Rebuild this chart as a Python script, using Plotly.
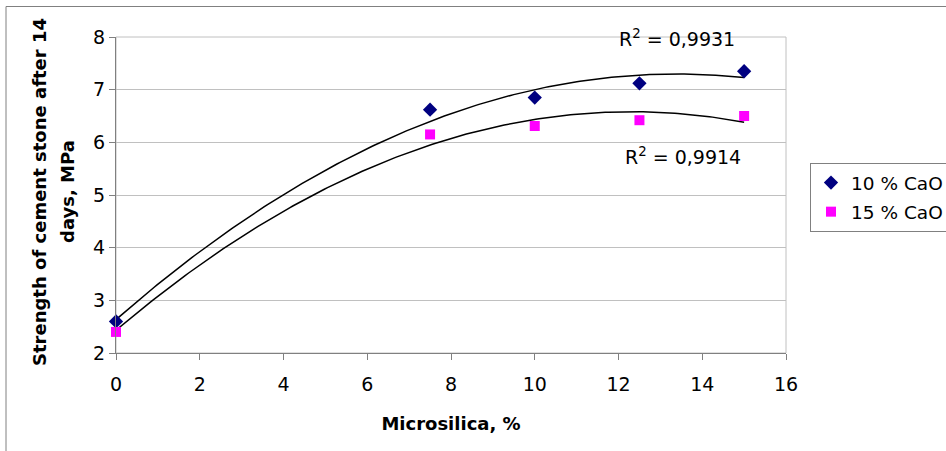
import numpy as np
import plotly.graph_objects as go

microsilica = [0, 7.5, 10, 12.5, 15]
cao10 = [2.6, 6.62, 6.85, 7.12, 7.35]
cao15 = [2.4, 6.15, 6.31, 6.42, 6.50]
series_names = ["10 % CaO", "15 % CaO"]
r2_labels = ["R<sup>2</sup> = 0,9931", "R<sup>2</sup> = 0,9914"]
y_title_lines = ["<b>Strength of cement stone after 14</b>", "<b>days, MPa</b>"]
x_ticks = [0, 2, 4, 6, 8, 10, 12, 14, 16]
y_ticks = [2, 3, 4, 5, 6, 7, 8]

FONT = "DejaVu Sans"
fig = go.Figure()

# quadratic trendlines (Excel-style polynomial fit of the data)
xs = np.linspace(min(microsilica), max(microsilica), 200)
for ys in (cao10, cao15):
    c = np.polyfit(microsilica, ys, 2)
    fig.add_trace(go.Scatter(x=xs, y=np.polyval(c, xs), mode="lines",
                             line=dict(color="black", width=1.5),
                             showlegend=False, hoverinfo="skip"))

fig.add_trace(go.Scatter(x=microsilica, y=cao10, mode="markers", name=series_names[0],
                         legendgroup="a",
                         marker=dict(symbol="diamond", color="#000080", size=11),
                         cliponaxis=False))
fig.add_trace(go.Scatter(x=microsilica, y=cao15, mode="markers", name=series_names[1],
                         legendgroup="b",
                         marker=dict(symbol="square", color="#FF00FF", size=10),
                         cliponaxis=False))

fig.add_annotation(x=13.4, y=7.98, text=r2_labels[0], showarrow=False,
                   font=dict(size=19, color="black", family=FONT))
fig.add_annotation(x=13.55, y=5.75, text=r2_labels[1], showarrow=False,
                   font=dict(size=19, color="black", family=FONT))

# y-axis title (two lines, placed like the reference)
for px, txt in zip((40, 68), y_title_lines):
    fig.add_annotation(xref="paper", yref="paper", x=(px - 116) / 670, y=(353 - 192) / 316,
                       text=txt, textangle=-90, showarrow=False,
                       xanchor="center", yanchor="middle",
                       font=dict(size=18, color="black", family=FONT))

# outer frame
fig.add_shape(type="rect", xref="paper", yref="paper",
              x0=(6 - 116) / 670, x1=(960 - 116) / 670,
              y0=(353 - 460) / 316, y1=(353 - 6.5) / 316,
              line=dict(color="#808080", width=1), layer="below")
# plot-area border
fig.add_shape(type="rect", xref="paper", yref="paper", x0=0, x1=1, y0=0, y1=1,
              line=dict(color="#c0c0c0", width=1), layer="below")

fig.update_layout(
    width=946, height=451,
    margin=dict(l=116, r=160, t=37, b=98, autoexpand=False),
    paper_bgcolor="white", plot_bgcolor="white",
    font=dict(family=FONT, size=19, color="black"),
    legend=dict(x=(810 - 116) / 670, y=0.601, xanchor="left", yanchor="top",
                bordercolor="#808080", borderwidth=1, bgcolor="white",
                itemwidth=30,
                font=dict(size=18.5, family=FONT), tracegroupgap=2),
    xaxis=dict(range=[0, 16], tickvals=x_ticks, showgrid=False, zeroline=False,
               showline=True, linecolor="#808080", linewidth=1,
               ticks="outside", ticklen=6, tickcolor="#808080",
               tickfont=dict(size=19), ticklabelstandoff=8,
               title=dict(text="<b>Microsilica, %</b>", font=dict(size=18), standoff=23)),
    yaxis=dict(range=[2, 8], tickvals=y_ticks, showgrid=True, gridcolor="#c0c0c0",
               zeroline=False, showline=True, linecolor="#808080", linewidth=1,
               ticks="outside", ticklen=6, tickcolor="#808080",
               tickfont=dict(size=19)),
)

fig.write_html("out.html", config={"displayModeBar": False},
               post_script="document.body.style.margin='0px';")
